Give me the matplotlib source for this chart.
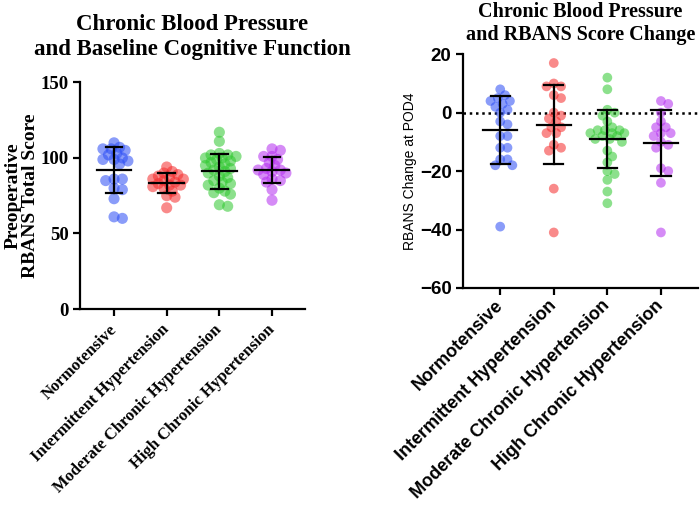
import numpy as np
import matplotlib.pyplot as plt

categories = ["Normotensive", "Intermittent Hypertension",
              "Moderate Chronic Hypertension", "High Chronic Hypertension"]
colors = ["#2a4cf5", "#f52a2a", "#2ec82e", "#b42cf0"]

# Preoperative RBANS total score per group
baseline_norm = [110, 107, 106, 106, 105, 103, 102, 100, 99, 99, 98, 96,
                 86, 86, 85, 80, 79, 73, 61, 60]
baseline_inter = [94, 91, 90, 89, 88, 87, 86, 86, 85, 84, 83, 82, 82, 81,
                  80, 78, 75, 74, 67]
baseline_mod = [117, 111, 103, 102, 102, 101, 100, 100, 99, 98, 97, 96, 95,
                94, 93, 92, 91, 90, 88, 87, 85, 84, 83, 82, 80, 78, 77, 76,
                69, 68]
baseline_high = [106, 105, 101, 101, 99, 97, 95, 93, 92, 92, 91, 90, 89, 86,
                 85, 84, 79, 72]

# RBANS change at POD4 per group
change_norm = [8, 6, 5, 4, 4, 3, 2, 1, 0, -3, -4, -8, -8, -12, -12, -16, -16,
               -18, -18, -39]
change_inter = [17, 10, 9, 9, 6, 5, 0, -1, -2, -3, -5, -5, -7, -7, -11, -12,
                -13, -26, -41]
change_mod = [12, 8, 1, 0, -1, -3, -5, -6, -6, -6, -7, -7, -7, -8, -8, -9,
              -9, -10, -13, -15, -17, -20, -21, -23, -27, -31]
change_high = [4, 3, 0, -3, -5, -5, -7, -7, -8, -10, -11, -12, -19, -20, -24,
               -41]

baseline = [baseline_norm, baseline_inter, baseline_mod, baseline_high]
change = [change_norm, change_inter, change_mod, change_high]


def swarm_offsets(ax, x0, vals, diam_px, cap_px=17, overlap=0.55):
    # beeswarm in pixel space, limited width; returns x in data units
    trans = ax.transData
    ys = [trans.transform((x0, v))[1] for v in vals]
    ppu = trans.transform((x0 + 1, 0))[0] - trans.transform((x0, 0))[0]
    cands = np.arange(0, cap_px + 0.1, diam_px * 0.25)
    cands = [0.0] + [s * c for c in cands[1:] for s in (1, -1)]
    order = np.argsort(vals)[::-1]
    placed = []
    out = np.zeros(len(vals))
    mind = diam_px * overlap
    for i in order:
        y = ys[i]
        best, best_d = None, -1
        for c in cands:
            d = min([np.hypot(c - p[0], y - p[1]) for p in placed] + [1e9])
            if d >= mind:
                best = c
                break
            if d > best_d:
                best, best_d = c, d
        placed.append((best, y))
        out[i] = x0 + best / ppu
    return out


def draw_panel(ax, data, ms, mean_w, cap_w, overlap):
    for i, vals in enumerate(data):
        xs = swarm_offsets(ax, i, vals, ms / 72 * 100, overlap=overlap)
        ax.scatter(xs, vals, s=ms ** 2, color=colors[i], alpha=0.55,
                   edgecolors="none", zorder=2)
        m = np.mean(vals)
        sd = np.std(vals, ddof=1)
        ax.plot([i - mean_w, i + mean_w], [m, m], color="black", lw=1.6, zorder=3)
        ax.plot([i, i], [m - sd, m + sd], color="black", lw=1.6, zorder=3)
        for yv in (m - sd, m + sd):
            ax.plot([i - cap_w, i + cap_w], [yv, yv], color="black", lw=1.6, zorder=3)


fig = plt.figure(figsize=(7, 5.07), dpi=100)
serif = "Liberation Serif"
sans = "Liberation Sans"

# left panel
ax1 = fig.add_axes([0.114, 0.3905, 0.322, 0.447])
ax1.set_xlim(-0.65, 3.63)
ax1.set_ylim(0, 150)
ax1.set_yticks([0, 50, 100, 150])
draw_panel(ax1, baseline, 8, 0.33, 0.16, 0.55)
ax1.set_xticks(range(4))
ax1.set_xticklabels(categories, rotation=45, ha="right", va="center",
                    rotation_mode="anchor", family=serif, weight="bold",
                    fontsize=12)
for lab in ax1.get_yticklabels():
    lab.set_family(serif)
    lab.set_weight("bold")
    lab.set_fontsize(13.5)
ax1.set_ylabel("Preoperative\nRBANS Total Score", family=serif,
               weight="bold", fontsize=14, labelpad=1, linespacing=1.05)
ax1.set_title("Chronic Blood Pressure\nand Baseline Cognitive Function",
              family=serif, weight="bold", fontsize=16.5, pad=20,
              linespacing=1.25)

# right panel
ax2 = fig.add_axes([0.661, 0.432, 0.336, 0.461])
ax2.set_xlim(-0.7, 3.69)
ax2.set_ylim(-60, 20)
ax2.set_yticks([-60, -40, -20, 0, 20])
ax2.axhline(0, color="black", lw=1.8, ls=(0, (1, 1.5)), zorder=1)
draw_panel(ax2, change, 7, 0.32, 0.18, 0.75)
ax2.set_xticks(range(4))
ax2.set_xticklabels(categories, rotation=45, ha="right", va="center",
                    rotation_mode="anchor", family=sans, weight="bold",
                    fontsize=13)
for lab in ax2.get_yticklabels():
    lab.set_family(sans)
    lab.set_weight("bold")
    lab.set_fontsize(13.5)
ax2.set_ylabel("RBANS Change at POD4", family=sans, fontsize=10, labelpad=2)
ax2.set_title("Chronic Blood Pressure\nand RBANS Score Change",
              family=serif, weight="bold", fontsize=14.5, pad=10,
              linespacing=1.2)

for ax in (ax1, ax2):
    for s in ("top", "right"):
        ax.spines[s].set_visible(False)
    for s in ("left", "bottom"):
        ax.spines[s].set_linewidth(1.6)
    ax.tick_params(width=1.6, length=5, pad=3)
ax1.tick_params(axis="x", pad=8)
ax2.tick_params(axis="x", pad=6)

fig.savefig("out.png", dpi=100)
